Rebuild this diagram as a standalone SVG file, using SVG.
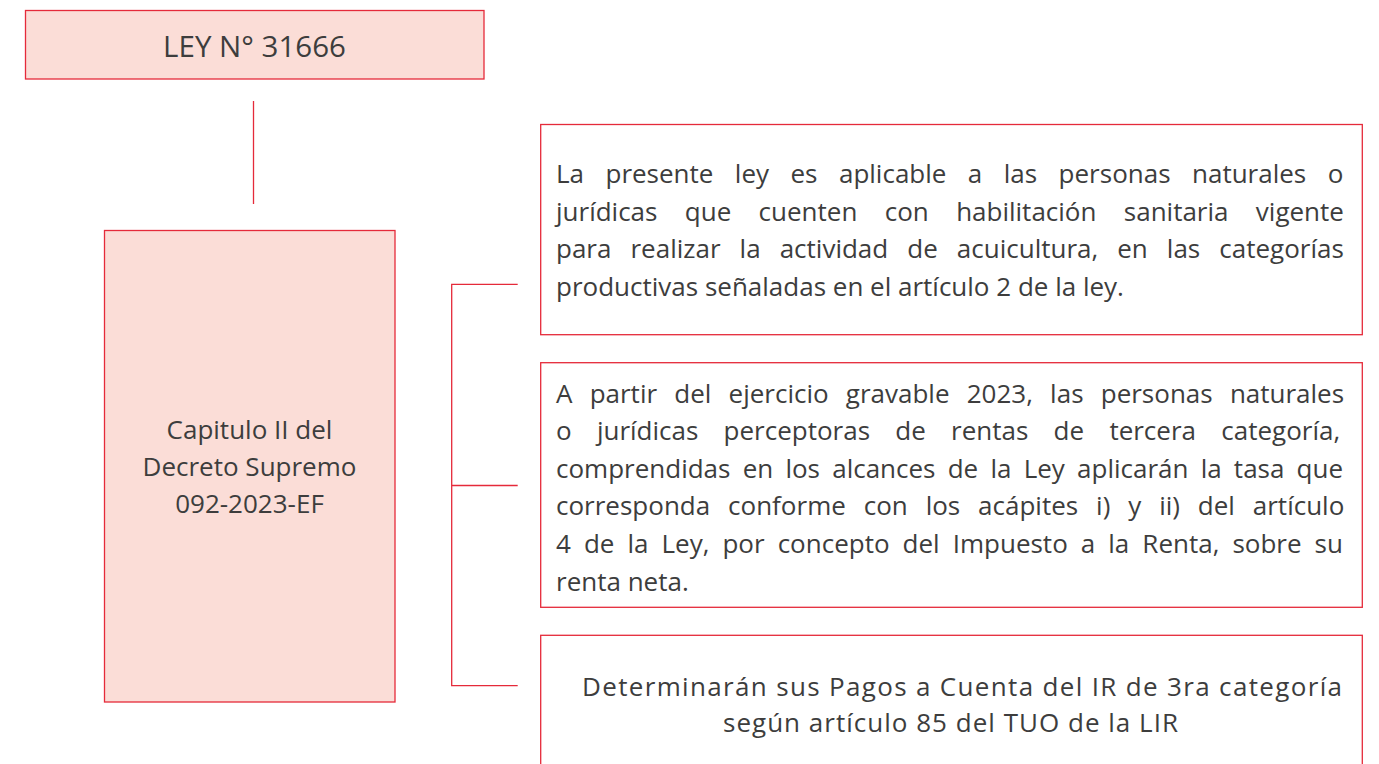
<svg xmlns="http://www.w3.org/2000/svg" width="1379" height="764" viewBox="0 0 1379 764">
<style>
.box{stroke:#e52a3a;stroke-width:1.3}
.pink{fill:#fbddd7}
.white{fill:#ffffff}
.t{font-family:"Open Sans","Liberation Sans",sans-serif;font-size:26px;fill:#3d3d3d}
.big{font-size:29.5px}
.c{text-anchor:middle}
.conn{fill:none;stroke:#e52a3a;stroke-width:1.3}
</style>
<rect width="1379" height="764" fill="#ffffff"/>
<g id="connectors">
<line class="conn" x1="253.5" y1="101" x2="253.5" y2="204"/>
<path class="conn" d="M517.7 284.3 H451.7 V685.7 H517.7 M451.7 485.5 H517.7"/>
</g>
<g id="ley">
<rect class="box pink" x="25.5" y="10.5" width="458.5" height="68.5"/>
<text class="t big c" x="254.5" y="56.5">LEY N° 31666</text>
</g>
<g id="capitulo">
<rect class="box pink" x="104.5" y="230.5" width="290.5" height="471.5"/>
<text class="t c" x="249.5" y="438.5">Capitulo II del</text>
<text class="t c" x="249.5" y="475.5">Decreto Supremo</text>
<text class="t c" x="249.5" y="512.5">092-2023-EF</text>
</g>
<g id="aplicacion">
<rect class="box white" x="540.7" y="124.5" width="821.6" height="210.2"/>
<text class="t" x="556" y="183" word-spacing="14.7">La presente ley es aplicable a las personas naturales o</text>
<text class="t" x="556" y="220.7" word-spacing="20.6">jurídicas que cuenten con habilitación sanitaria vigente</text>
<text class="t" x="556" y="258.4" word-spacing="12.3">para realizar la actividad de acuicultura, en las categorías</text>
<text class="t" x="556" y="296">productivas señaladas en el artículo 2 de la ley.</text>
</g>
<g id="tasa">
<rect class="box white" x="540.7" y="362.7" width="821.6" height="244.6"/>
<text class="t" x="556" y="402.7" word-spacing="10.45">A partir del ejercicio gravable 2023, las personas naturales</text>
<text class="t" x="556" y="440.2" word-spacing="18.5">o jurídicas perceptoras de rentas de tercera categoría,</text>
<text class="t" x="556" y="477.8" word-spacing="5.45">comprendidas en los alcances de la Ley aplicarán la tasa que</text>
<text class="t" x="556" y="515.4" word-spacing="11.14">corresponda conforme con los acápites i) y ii) del artículo</text>
<text class="t" x="556" y="553" word-spacing="6.28">4 de la Ley, por concepto del Impuesto a la Renta, sobre su</text>
<text class="t" x="556" y="590.5">renta neta.</text>
</g>
<g id="pagos">
<rect class="box white" x="540.7" y="635.3" width="821.6" height="160"/>
<text class="t" x="582" y="695.5" textLength="760" lengthAdjust="spacing">Determinarán sus Pagos a Cuenta del IR de 3ra categoría</text>
<text class="t" x="723" y="732" textLength="455" lengthAdjust="spacing">según artículo 85 del TUO de la LIR</text>
</g>
</svg>
